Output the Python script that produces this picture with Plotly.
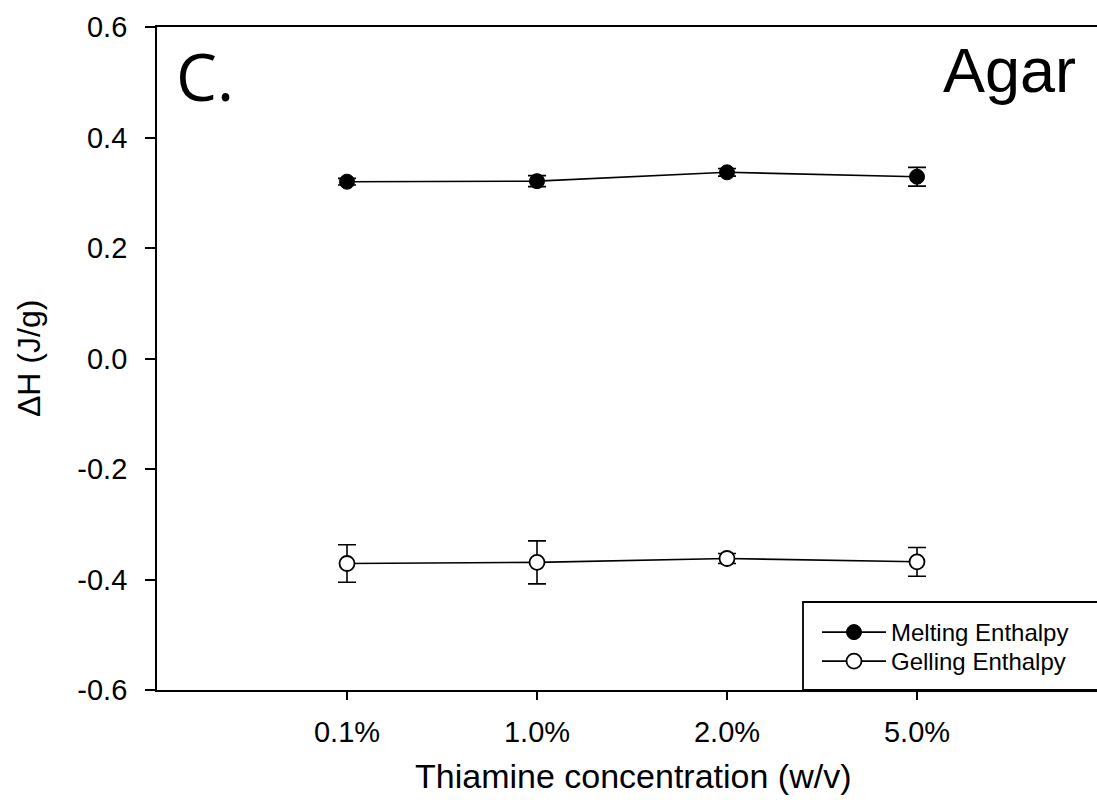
import plotly.graph_objects as go

# ---- data ----
categories = ["0.1%", "1.0%", "2.0%", "5.0%"]
melting = [0.320, 0.321, 0.337, 0.329]
melting_err = [0.006, 0.010, 0.007, 0.017]
gelling = [-0.371, -0.369, -0.362, -0.368]
gelling_err = [0.034, 0.039, 0.009, 0.026]
y_tick_vals = [-0.6, -0.4, -0.2, 0.0, 0.2, 0.4, 0.6]
y_tick_text = ["-0.6", "-0.4", "-0.2", "0.0", "0.2", "0.4", "0.6"]

W, H = 1097, 800
L, R, T, B = 157, 0, 27, 110
PW, PH = W - L - R, H - T - B
FONT = "Liberation Sans, Arial, sans-serif"


def px(xp):
    return (xp - L) / PW


def py(yp):
    return (H - B - yp) / PH


xpos = [i + 1 for i in range(len(categories))]

fig = go.Figure()
fig.add_trace(go.Scatter(
    x=xpos, y=melting, name="Melting Enthalpy", mode="lines+markers", legend="legend",
    line=dict(color="black", width=1.6),
    marker=dict(symbol="circle", size=15, color="black", line=dict(color="black", width=1)),
    error_y=dict(type="data", array=melting_err, visible=True, color="black", thickness=1.6, width=9),
))
fig.add_trace(go.Scatter(
    x=xpos, y=gelling, name="Gelling Enthalpy", mode="lines+markers", legend="legend2",
    line=dict(color="black", width=1.6),
    marker=dict(symbol="circle", size=15, color="white", line=dict(color="black", width=1.8)),
    error_y=dict(type="data", array=gelling_err, visible=True, color="black", thickness=1.6, width=9),
))

leg_common = dict(xanchor="left", yanchor="top", bgcolor="rgba(0,0,0,0)", borderwidth=0,
                  font=dict(size=24, color="black", family=FONT), itemwidth=64)

fig.update_layout(
    width=W, height=H,
    margin=dict(l=L, r=R, t=T, b=B, pad=0),
    paper_bgcolor="white", plot_bgcolor="white",
    font=dict(family=FONT, color="black"),
    showlegend=True,
    legend=dict(x=px(817), y=py(610), **leg_common),
    legend2=dict(x=px(817), y=py(639), **leg_common),
    xaxis=dict(
        range=[0, PW / 190.0], tickvals=xpos, ticktext=categories,
        showgrid=False, zeroline=False, showline=True, linecolor="black", linewidth=1.8,
        mirror=True, ticks="outside", ticklen=8, tickwidth=1.8, tickcolor="black",
        tickfont=dict(size=29), ticklabelstandoff=7,
    ),
    yaxis=dict(
        range=[-0.6, 0.6], tickvals=y_tick_vals, ticktext=y_tick_text,
        showgrid=False, zeroline=False, showline=True, linecolor="black", linewidth=1.8,
        mirror=False, ticks="outside", ticklen=10, tickwidth=1.8, tickcolor="black",
        tickfont=dict(size=29), ticklabelstandoff=12,
    ),
)

# legend frame
fig.add_shape(type="rect", xref="paper", yref="paper",
              x0=px(803), x1=px(1110), y0=py(690), y1=py(602),
              line=dict(color="black", width=1.8), fillcolor="rgba(0,0,0,0)")

# axis titles
fig.add_annotation(text="Thiamine concentration (w/v)", xref="paper", yref="paper",
                   x=px(633), y=py(776), xanchor="center", yanchor="middle", showarrow=False,
                   font=dict(size=34, family=FONT, color="black"))
fig.add_annotation(text="ΔH (J/g)", xref="paper", yref="paper", textangle=-90,
                   x=px(29), y=py(359), xanchor="center", yanchor="middle", showarrow=False,
                   font=dict(size=32, family=FONT, color="black"))

# panel labels
fig.add_annotation(text="C.", xref="paper", yref="paper",
                   x=px(174), y=py(76), xanchor="left", yanchor="middle", showarrow=False,
                   font=dict(size=65, family="Open Sans, sans-serif", color="black"))
fig.add_annotation(text="Agar", xref="paper", yref="paper",
                   x=px(1078), y=py(70), xanchor="right", yanchor="middle", showarrow=False,
                   font=dict(size=63, family=FONT, color="black"))

fig.write_html("out.html", config={"displayModeBar": False},
               post_script="document.body.style.margin='0';document.body.style.overflow='hidden';")
